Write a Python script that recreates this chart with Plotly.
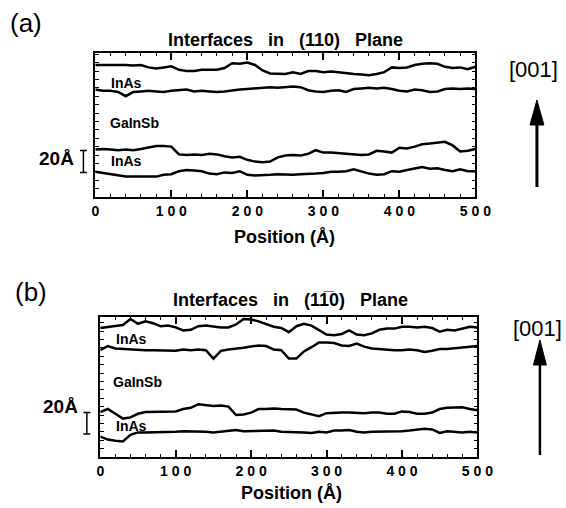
import plotly.graph_objects as go

# ---------------- data ----------------
positions = list(range(0, 501, 10))

# Panel (a): interfaces in (110) plane (heights, arbitrary Å-like units)
a_inas_top_upper = [110, 110, 110.5, 110, 110, 109.5, 110, 108, 107, 108, 109, 106, 105, 105, 106, 106, 106,
                    107.5, 111.5, 111, 112, 110, 105.5, 103, 102.5, 102.5, 104, 102.5, 105, 105, 104, 104.5,
                    104, 103, 102.5, 102, 101.5, 102.5, 104, 108, 107.5, 108, 110, 111, 111.5, 111, 108.5,
                    107.5, 108, 106.5, 108.5]
a_inas_top_lower = [89.5, 88.5, 88.5, 87.5, 84, 87.5, 88, 88.5, 88, 87.5, 88.5, 89, 89.5, 88, 88.5, 88, 87.5,
                    88, 89, 89.5, 90, 90.5, 91, 91.5, 91, 91.5, 92, 91.5, 89, 88, 87.5, 88.5, 89, 87.5, 90,
                    90.5, 91, 90.5, 91, 90, 88.5, 88, 89.5, 89, 87.5, 88, 90, 90.5, 90, 90.5, 90]
a_inas_bot_upper = [39.5, 40, 39.5, 39, 39.5, 39, 40, 41.5, 42.5, 42.5, 42, 35.5, 35, 35.5, 35, 36, 35.5, 34,
                    33, 33.5, 31, 29.5, 29, 29.5, 33, 34.5, 35, 34.5, 36, 39, 37, 37, 36.5, 36.5, 35.5, 35,
                    35.5, 38.5, 38, 37, 41, 40.5, 42, 44, 44.5, 45, 46, 43, 38, 38.5, 40]
a_inas_bot_lower = [21, 20, 18.5, 17.5, 17, 17, 17, 17.5, 17, 18.5, 19, 21.5, 22.5, 22, 21.5, 19.5, 19, 20.5,
                    20, 21.5, 18.5, 18, 18, 18.5, 19, 18.5, 18.5, 19, 19, 19.5, 20, 21, 21, 21.5, 23, 21,
                    19.5, 18.5, 19, 21.5, 21, 22.5, 24, 25, 23.5, 24, 22.5, 21.5, 23, 21.5, 21.5]

# Panel (b): interfaces in (1-10) plane
b_inas_top_upper = [107.5, 108.5, 109, 110, 115, 111, 113, 111.5, 109, 109.5, 108, 105.5, 106, 109, 109.5,
                    108.5, 108, 108, 110.5, 115, 114.5, 113, 110.5, 108.5, 107.5, 104, 109, 111, 109.5,
                    105.5, 102, 101.5, 102.5, 105.5, 102, 101.5, 103, 106, 107, 107, 108.5, 108.5, 108,
                    108.5, 107.5, 104.5, 106, 105.5, 107, 108.5, 108]
b_inas_top_lower = [89, 92.5, 90.5, 90, 90, 89.5, 89, 89, 89, 88.5, 88.5, 89.5, 89, 89.5, 89, 82, 88.5, 89.5,
                    90, 91, 92, 93, 92.5, 89.5, 89, 82, 82, 88, 91.5, 95.5, 95.5, 95, 93, 92.5, 94.5, 92,
                    90.5, 90, 89, 89, 89, 89.5, 89, 87.5, 88.5, 90, 90, 90.5, 91, 92, 92.5]
b_inas_bot_upper = [37.5, 40, 36, 32, 33, 36, 37.5, 37.5, 37.5, 37.5, 38, 40, 41, 44, 43.5, 42.5, 43, 42, 35,
                    35.5, 37, 40, 40, 40.5, 40, 40, 39.5, 37, 35.5, 34, 36.5, 37, 37, 37, 36.5, 36.5, 37,
                    37, 36, 36, 38, 37.5, 36, 36, 37, 40, 41, 41.5, 41.5, 40, 39]
b_inas_bot_lower = [17, 14.5, 13.5, 13, 18.5, 20.5, 20.5, 20.5, 20.5, 21, 21, 21.5, 21.5, 21.5, 21, 20.5, 21,
                    21.5, 22.5, 21.5, 21.5, 21.5, 22, 22, 21, 21, 20.5, 20.5, 20, 21, 20.5, 22, 22, 22.5,
                    21, 20.5, 21, 21, 21.5, 21, 21.5, 22, 22.5, 23.5, 23, 20, 21.5, 21, 20.5, 21, 20.5]

x_tickvals = [0, 100, 200, 300, 400, 500]
x_ticktext = ["0", "1 0 0", "2 0 0", "3 0 0", "4 0 0", "5 0 0"]
region_labels = ["InAs", "GaInSb", "InAs"]

# ---------------- layout helpers ----------------
# The photographed page appears horizontally compressed by ~0.973, so the
# figure is made a little wider and positions are given in photo pixels.
W, H = 582, 508
SX = 0.973
def fx(px):
    return px / SX / W
def fy(py):
    return 1 - py / H

fig = go.Figure()
series_a = [a_inas_top_upper, a_inas_top_lower, a_inas_bot_upper, a_inas_bot_lower]
series_b = [b_inas_top_upper, b_inas_top_lower, b_inas_bot_upper, b_inas_bot_lower]
for s in series_a:
    fig.add_trace(go.Scatter(x=positions, y=s, mode="lines", line=dict(color="black", width=2.5),
                             xaxis="x", yaxis="y", showlegend=False, hoverinfo="skip"))
for s in series_b:
    fig.add_trace(go.Scatter(x=positions, y=s, mode="lines", line=dict(color="black", width=2.5),
                             xaxis="x2", yaxis="y2", showlegend=False, hoverinfo="skip"))

FAM = "Liberation Sans, Arial, sans-serif"
tickfont = dict(family=FAM, size=14, color="black", weight="bold")

def xaxis_cfg(domain, anchor):
    return dict(domain=domain, anchor=anchor, range=[0, 500], tickvals=x_tickvals, ticktext=x_ticktext,
                ticks="inside", ticklen=7, tickwidth=1.5, tickcolor="black", showline=True, linewidth=1.5,
                linecolor="black", mirror="allticks", showgrid=False, zeroline=False, tickfont=tickfont,
                minor=dict(dtick=20, ticks="inside", ticklen=3, tickcolor="black", tickwidth=1, showgrid=False))

def yaxis_cfg(domain, anchor, top):
    return dict(domain=domain, anchor=anchor, range=[0, top], showticklabels=False, dtick=7,
                ticks="inside", ticklen=4, tickwidth=1, tickcolor="black", showline=True, linewidth=1.5,
                linecolor="black", mirror="allticks", showgrid=False, zeroline=False)

fig.update_layout(
    width=W, height=H, margin=dict(l=0, r=0, t=0, b=0),
    paper_bgcolor="white", plot_bgcolor="white",
    xaxis=xaxis_cfg([fx(92), fx(475)], "y"),
    yaxis=yaxis_cfg([fy(197), fy(53)], "x", 120),
    xaxis2=xaxis_cfg([fx(97), fx(477)], "y2"),
    yaxis2=yaxis_cfg([fy(457), fy(317)], "x2", 140 / 1.2),
)

ann = []
def text(px, py, s, size, xanchor="center"):
    ann.append(dict(x=fx(px), y=fy(py), xref="paper", yref="paper", text=s, showarrow=False,
                    xanchor=xanchor, yanchor="middle", font=dict(family=FAM, size=size, color="black")))

# panel labels
text(4, 23, "(a)", 26, "left")
text(9, 292, "(b)", 26, "left")
# titles
text(284, 40, "<b>Interfaces   in   (110)   Plane</b>", 18)
text(289, 300, "<b>Interfaces   in   (11\u03050)   Plane</b>", 18)
# axis titles
text(283, 237, "<b>Position (Å)</b>", 18)
text(290, 493, "<b>Position (Å)</b>", 18)
# region labels
for (px, py), s in zip([(106, 83), (105, 123), (106, 161)], region_labels):
    text(px, py, "<b>" + s + "</b>", 14, "left")
for (px, py), s in zip([(111, 339), (108, 382), (111, 426)], region_labels):
    text(px, py, "<b>" + s + "</b>", 14, "left")
# scale bar labels
text(73, 158, "<b>20Å</b>", 19, "right")
text(77, 406, "<b>20Å</b>", 19, "right")
# [001]
text(534, 70, "[001]", 22)
text(538, 328, "[001]", 22)
fig.update_layout(annotations=ann)

shapes = []
def line(x0, y0, x1, y1, w=1.5):
    shapes.append(dict(type="line", xref="paper", yref="paper", x0=fx(x0), y0=fy(y0), x1=fx(x1), y1=fy(y1),
                       line=dict(color="black", width=w)))
def tri(xc, ytip, ybase, half):
    p = f"M {fx(xc)} {fy(ytip)} L {fx(xc-half)} {fy(ybase)} L {fx(xc+half)} {fy(ybase)} Z"
    shapes.append(dict(type="path", xref="paper", yref="paper", path=p, fillcolor="black",
                       line=dict(color="black", width=1)))

# scale bars
for xc, y0, y1 in [(80, 150.5, 172.5), (83.5, 412.5, 434)]:
    line(xc, y0, xc, y1)
    line(xc - 3.5, y0, xc + 3.5, y0)
    line(xc - 3.5, y1, xc + 3.5, y1)
# arrows
line(537, 187, 537, 120, 3)
tri(537, 100, 125, 7)
line(540, 455, 540, 360, 2.5)
tri(540, 340, 365, 6.5)
fig.update_layout(shapes=shapes)

# remove the default page margin so the figure starts at the window's corner
fig.write_html("out.html", config={"displayModeBar": False},
               post_script="document.body.style.margin='0';document.body.style.overflow='hidden';")
